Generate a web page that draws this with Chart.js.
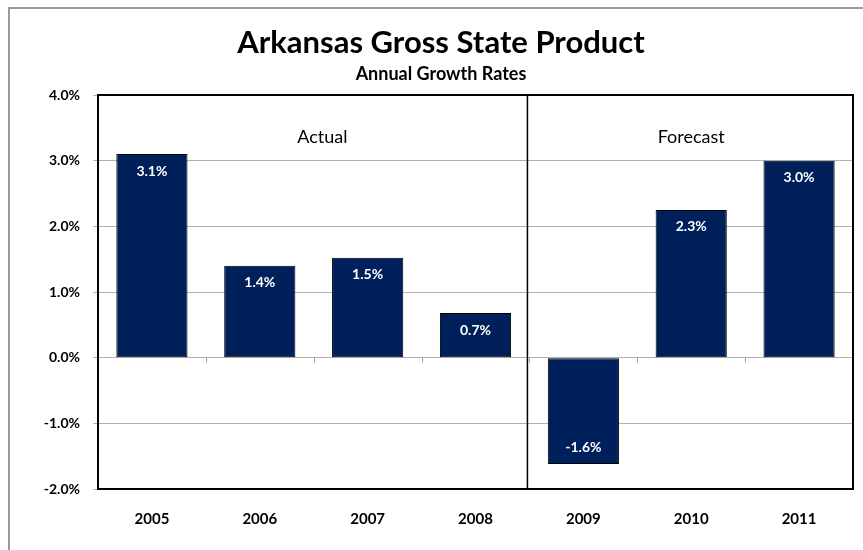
<!DOCTYPE html>
<html>
<head>
<meta charset="utf-8">
<script src="https://cdn.jsdelivr.net/npm/chart.js@4.4.1/dist/chart.umd.min.js"></script>
<style>
  html, body { margin: 0; padding: 0; background: #fff; }
  #wrap { width: 863px; height: 550px; position: relative; }
</style>
</head>
<body>
<div id="wrap"><canvas id="gspChart" width="863" height="550"></canvas></div>
<script>
// values
var years = ['2005', '2006', '2007', '2008', '2009', '2010', '2011'];
var growth = [3.1, 1.4, 1.52, 0.68, -1.62, 2.25, 3.0];
var periodLabels = ['Actual', 'Forecast'];
var periodCenters = [1.58, 5];   // in category index units
var yMin = -2, yMax = 4, yStep = 1;
var titleText = 'Arkansas Gross State Product';
var subtitleText = 'Annual Growth Rates';

var FONT = 'Lato, "Open Sans", sans-serif';

// frame, titles, divider line, zero-line ticks, period labels, bar value labels
var extras = {
    id: 'extras',
    beforeDraw: function (chart) {
        var ctx = chart.ctx;
        ctx.save();
        ctx.fillStyle = '#fff';
        ctx.fillRect(0, 0, chart.width, chart.height);
        ctx.strokeStyle = '#9a9a9a';
        ctx.lineWidth = 2;
        ctx.beginPath();
        ctx.moveTo(9, chart.height);
        ctx.lineTo(9, 8);
        ctx.lineTo(chart.width, 8);
        ctx.stroke();

        ctx.fillStyle = '#000';
        ctx.textAlign = 'center';
        ctx.textBaseline = 'alphabetic';
        ctx.font = 'bold 31px ' + FONT;
        ctx.fillText(titleText, 441, 53);
        ctx.font = 'bold 18px ' + FONT;
        ctx.fillText(subtitleText, 441, 80);
        ctx.restore();
    },
    afterDatasetsDraw: function (chart) {
        var ctx = chart.ctx;
        var x = chart.scales.x, y = chart.scales.y;
        var area = chart.chartArea;
        ctx.save();

        // small ticks on the zero line between categories
        var y0 = y.getPixelForValue(0);
        ctx.strokeStyle = '#a0a0a0';
        ctx.lineWidth = 1;
        for (var i = 1; i < years.length; i++) {
            var bx = (x.getPixelForValue(i - 1) + x.getPixelForValue(i)) / 2;
            ctx.beginPath();
            ctx.moveTo(Math.round(bx) + 0.5, y0);
            ctx.lineTo(Math.round(bx) + 0.5, y0 + 5);
            ctx.stroke();
        }

        // divider between actual and forecast
        var dx = (x.getPixelForValue(3) + x.getPixelForValue(4)) / 2 - 2;
        ctx.strokeStyle = '#000';
        ctx.lineWidth = 1.5;
        ctx.beginPath();
        ctx.moveTo(dx, area.top);
        ctx.lineTo(dx, area.bottom);
        ctx.stroke();

        // plot area border
        ctx.lineWidth = 2;
        ctx.strokeRect(area.left, area.top, area.right - area.left, area.bottom - area.top);

        // period labels
        ctx.fillStyle = '#000';
        ctx.font = '18px ' + FONT;
        ctx.textAlign = 'center';
        ctx.textBaseline = 'middle';
        periodLabels.forEach(function (lbl, k) {
            ctx.fillText(lbl, x.getPixelForValue(periodCenters[k]), y.getPixelForValue(3.35));
        });

        // value labels inside bars
        ctx.fillStyle = '#fff';
        ctx.font = 'bold 14px ' + FONT;
        chart.getDatasetMeta(0).data.forEach(function (bar, i) {
            var v = growth[i];
            var ty = v >= 0 ? bar.y + 17 : bar.y - 17;
            ctx.fillText(v.toFixed(1) + '%', bar.x, ty);
        });
        ctx.restore();
    }
};

new Chart(document.getElementById('gspChart'), {
    type: 'bar',
    data: {
        labels: years,
        datasets: [{
            data: growth,
            backgroundColor: '#00205b',
            borderColor: '#000',
            borderWidth: 1,
            borderSkipped: false,
            barPercentage: 0.66,
            categoryPercentage: 1
        }]
    },
    options: {
        responsive: false,
        animation: false,
        layout: { padding: { left: 0, right: 10, top: 95, bottom: 0 } },
        plugins: {
            legend: { display: false },
            tooltip: { enabled: false },
            title: { display: false },
            subtitle: { display: false }
        },
        scales: {
            x: {
                grid: { display: false },
                border: { color: '#000', width: 2 },
                ticks: {
                    color: '#000',
                    padding: 13,
                    font: { family: FONT, size: 15, weight: 'bold' }
                },
                afterFit: function (scale) { scale.height = 61; }
            },
            y: {
                min: yMin,
                max: yMax,
                grid: { color: '#b0b0b0', tickLength: 5, lineWidth: 1 },
                border: { color: '#000', width: 2 },
                ticks: {
                    stepSize: yStep,
                    color: '#000',
                    padding: 13,
                    font: { family: FONT, size: 14, weight: 'bold' },
                    callback: function (v) { return v.toFixed(1) + '%'; }
                },
                afterFit: function (scale) { scale.width = 98; }
            }
        }
    },
    plugins: [extras]
});
</script>
</body>
</html>
